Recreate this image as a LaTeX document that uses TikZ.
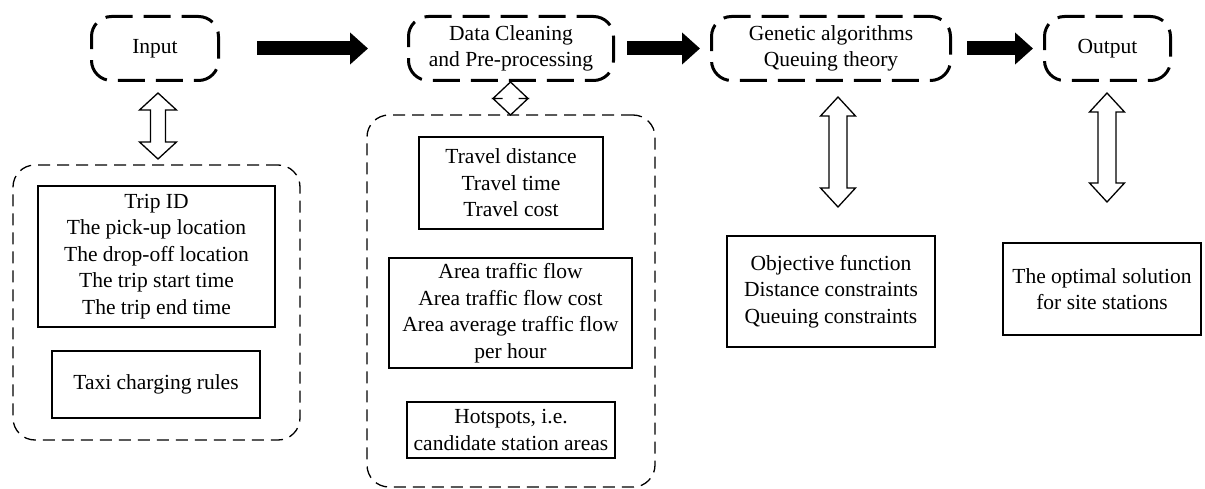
\documentclass[tikz,border=0pt]{standalone}
\usepackage{fontspec}
\setmainfont{Liberation Serif}
\usetikzlibrary{arrows.meta,calc}

\tikzset{
  txt/.style={font=\fontsize{21.5}{26.5}\selectfont, align=center, inner sep=0pt},
  stage/.style={txt, draw, line width=3pt, rounded corners=20pt,
    dash pattern=on 27pt off 11pt, dash phase=10pt},
  group/.style={draw, line width=1.3pt, rounded corners=22pt,
    dash pattern=on 12pt off 7pt},
  item/.style={txt, draw, line width=1.4pt},
  bigarrow/.style={line width=14pt, -{Triangle[length=18pt,width=31pt]}},
  hollow/.style={draw, line width=1.3pt, fill=white, line join=miter}
}

% vertical double-headed outline arrow: top point, bottom point,
% shaft half width, head half width, head length
\newcommand{\hollowdbl}[5]{%
  \draw[hollow] (#1) -- ++(#4,#5) -- ++(#3-#4,0) -- ($(#2)+(#3,-#5)$)
    -- ++(#4-#3,0) -- (#2) -- ++(-#4,-#5) -- ++(#4-#3,0)
    -- ($(#1)+(-#3,#5)$) -- ++(#3-#4,0) -- cycle;}

\begin{document}
\begin{tikzpicture}[x=1pt,y=-1pt]
\useasboundingbox (0,0) rectangle (1205,489);

% process stages
\node[stage, minimum width=127pt, minimum height=64pt] (input) at (155,48.5) {Input};
\node[stage, minimum width=205pt, minimum height=64pt] (clean) at (511,48.5) {Data Cleaning\\and Pre-processing};
\node[stage, minimum width=239pt, minimum height=64pt] (gen) at (831,48.5) {Genetic algorithms\\Queuing theory};
\node[stage, minimum width=126pt, minimum height=64pt] (output) at (1107.5,48.5) {Output};

% flow between stages
\draw[bigarrow] ([xshift=37pt]input.east) -- ([xshift=-39pt]clean.west);
\draw[bigarrow] ([xshift=12pt]clean.east) -- ([xshift=-10pt]gen.west);
\draw[bigarrow] ([xshift=15pt]gen.east) -- ([xshift=-10pt]output.west);

% input data group
\node[group, minimum width=287pt, minimum height=275pt] (ingroup) at (156.5,302.5) {};
\node[item, minimum width=237pt, minimum height=141pt] (trip) at (156.5,256.5)
  {Trip ID\\The pick-up location\\The drop-off location\\The trip start time\\The trip end time};
\node[item, minimum width=208pt, minimum height=67pt] (taxi) at (156,384.5) {Taxi charging rules};

% cleaned data group
\node[group, minimum width=288pt, minimum height=372pt] (cleangroup) at (511,301) {};
\node[item, minimum width=184pt, minimum height=92pt] (travel) at (511,183)
  {Travel distance\\Travel time\\Travel cost};
\node[item, minimum width=243pt, minimum height=110pt] (area) at (510.5,313)
  {Area traffic flow\\Area traffic flow cost\\Area average traffic flow\\per hour};
\node[item, minimum width=208pt, minimum height=56pt] (hot) at (511,430)
  {Hotspots, i.e.\\candidate station areas};

% model and result
\node[item, minimum width=208pt, minimum height=111pt] (model) at (831,291.5)
  {Objective function\\Distance constraints\\Queuing constraints};
\node[item, minimum width=198pt, minimum height=92pt] (result) at (1102,289)
  {The optimal solution\\for site stations};

% links between stages and their data
\coordinate (l1t) at (158,93);   \coordinate (l1b) at (158,159);
\coordinate (l2t) at (510.5,82); \coordinate (l2b) at (510.5,115);
\coordinate (l3t) at (838,97);   \coordinate (l3b) at (838,207);
\coordinate (l4t) at (1107,93);  \coordinate (l4b) at (1107,202);
\hollowdbl{l1t}{l1b}{7.5}{18.5}{17}
\hollowdbl{l2t}{l2b}{8}{17.5}{16.5}
\hollowdbl{l3t}{l3b}{9}{17.5}{19}
\hollowdbl{l4t}{l4b}{9}{17.5}{19}
\end{tikzpicture}
\end{document}
